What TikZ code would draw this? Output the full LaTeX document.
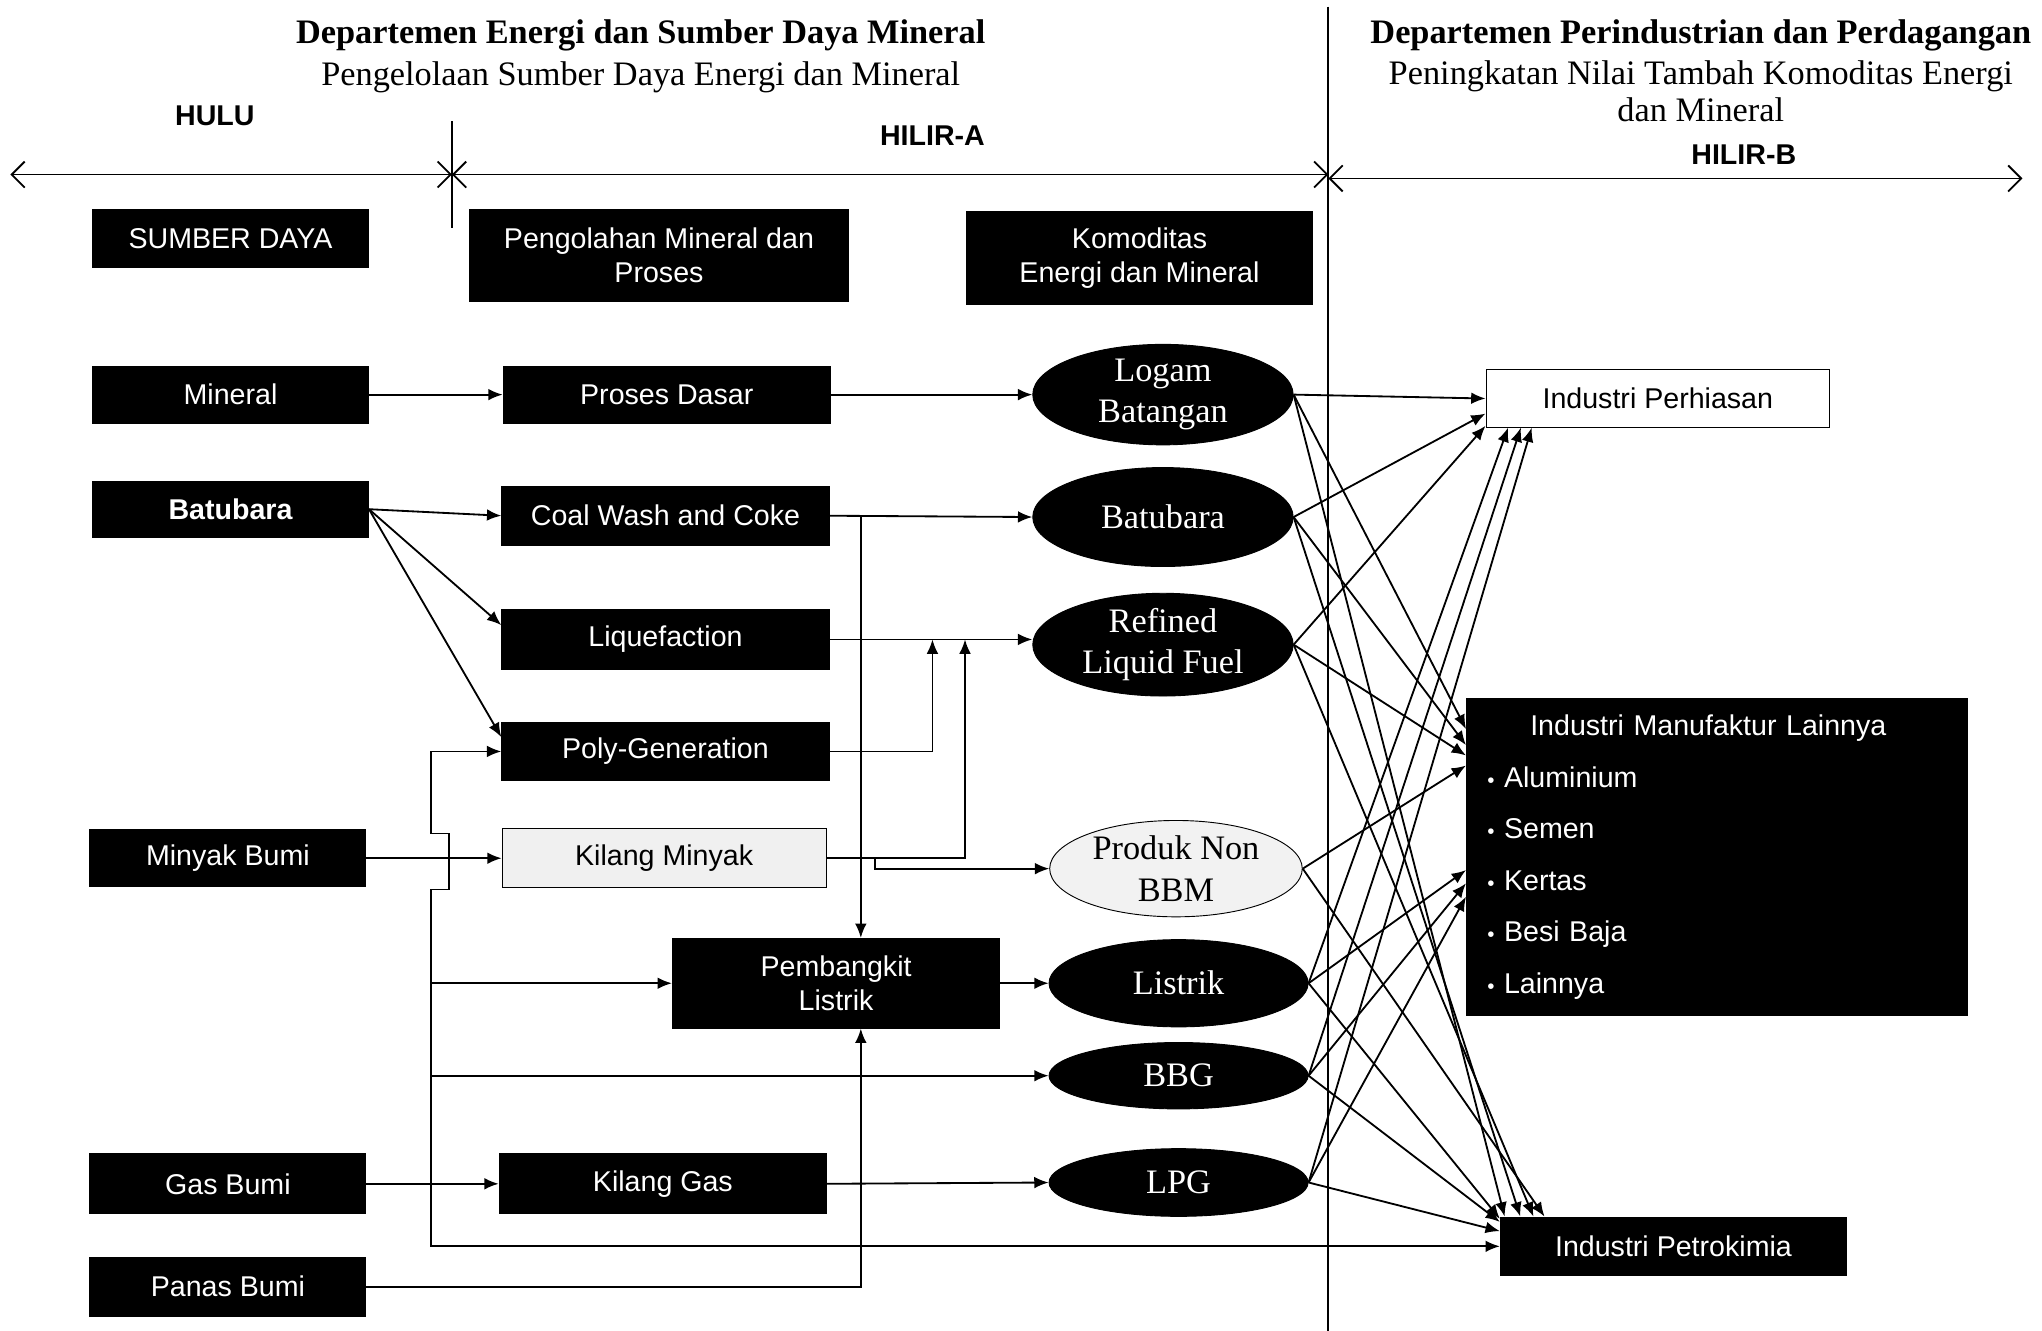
\documentclass[tikz,border=0pt]{standalone}
\usepackage{fontspec}
\setmainfont{Liberation Serif}
\setsansfont{Liberation Sans}
\usetikzlibrary{arrows.meta,shapes.geometric}

\tikzset{
  blk/.style={draw=black, fill=black, text=white, inner sep=1pt, align=center,
    font=\sffamily\fontsize{12.5}{15}\selectfont},
  leftbox/.style={blk, minimum width=4.24cm, minimum height=0.9cm},
  midbox/.style={blk, minimum width=5.03cm, minimum height=0.9cm},
  oval/.style={ellipse, draw=black, fill=black, text=white, inner sep=0pt, align=center,
    minimum width=4cm, font=\fontsize{15}{18}\selectfont},
  ttl/.style={font=\bfseries\fontsize{15}{16}\selectfont, align=center},
  subttl/.style={font=\fontsize{15}{16}\selectfont, align=center},
  zone/.style={font=\sffamily\bfseries\fontsize{12.5}{15}\selectfont},
  arr/.style={line width=0.8pt, -{Latex[length=2.2mm,width=1.8mm]}},
  zonearr/.style={line width=0.8pt, {Straight Barb[length=2mm]}-{Straight Barb[length=2mm]}}
}

\begin{document}
\begin{tikzpicture}[x=0.02cm, y=-0.02cm]
  \useasboundingbox (0,0) rectangle (1568,1022);

  % Titles
  \node[ttl] (esdm) at (492,27) {Departemen Energi dan Sumber Daya Mineral};
  \node[subttl] (esdmsub) at (492,59) {Pengelolaan Sumber Daya Energi dan Mineral};
  \node[ttl] (dpp) at (1306,27) {Departemen Perindustrian dan Perdagangan};
  \node[subttl] (dppsub) at (1306,70) {Peningkatan Nilai Tambah Komoditas Energi\\dan Mineral};

  % Zones
  \node[zone] (hulu) at (165,89) {HULU};
  \node[zone] (hilira) at (716,104) {HILIR-A};
  \node[zone] (hilirb) at (1339,119) {HILIR-B};
  \coordinate (zl) at (8,134);
  \coordinate (zm) at (347,134);
  \coordinate (zr) at (1020,134);
  \coordinate (zr2) at (1020,137);
  \coordinate (ze) at (1553,137);
  \draw[zonearr] (zl) -- (zm);
  \draw[zonearr] (zm) -- (zr);
  \draw[zonearr] (zr2) -- (ze);
  \draw[line width=0.8pt] (347,93) -- (347,175);
  \draw[line width=0.8pt] (1020,5) -- (1020,1022);

  % Hulu
  \node[leftbox] (sd) at (177,183) {SUMBER DAYA};
  \node[leftbox, minimum height=0.88cm] (min) at (177,303) {Mineral};
  \node[leftbox, minimum height=0.86cm, font=\sffamily\bfseries\fontsize{12.5}{15}\selectfont] (bb) at (177,391) {Batubara};
  \node[leftbox, minimum height=0.88cm] (mb) at (175,659) {Minyak Bumi};
  \node[leftbox, minimum height=0.92cm] (gb) at (175,909) {Gas Bumi};
  \node[leftbox] (pb) at (175,988) {Panas Bumi};

  % Hilir-A
  \node[blk, minimum width=5.82cm, minimum height=1.42cm] (hd1) at (506,196) {Pengolahan Mineral dan\\Proses};
  \node[blk, minimum width=5.32cm, minimum height=1.44cm] (hd2) at (875,198) {Komoditas\\Energi dan Mineral};
  \node[midbox, minimum height=0.88cm] (pd) at (512,303) {Proses Dasar};
  \node[midbox] (cwc) at (511,396) {Coal Wash and Coke};
  \node[midbox, minimum height=0.92cm] (liq) at (511,491) {Liquefaction};
  \node[midbox] (pg) at (511,577) {Poly-Generation};
  \node[midbox, fill=gray!12, text=black, minimum width=4.98cm] (km) at (510,659) {Kilang Minyak};
  \node[midbox, minimum height=1.38cm] (pl) at (642,755) {Pembangkit\\Listrik};
  \node[midbox, minimum height=0.92cm] (kg) at (509,909) {Kilang Gas};

  \node[oval, minimum height=1.54cm] (logam) at (893,303) {Logam\\Batangan};
  \node[oval, minimum height=1.52cm] (bbo) at (893,397) {Batubara};
  \node[oval, minimum height=1.56cm] (rlf) at (893,495) {Refined\\Liquid Fuel};
  \node[oval, fill=gray!10, text=black, minimum width=3.88cm, minimum height=1.48cm] (pnb) at (903,667) {Produk Non\\BBM};
  \node[oval, minimum width=3.98cm, minimum height=1.34cm] (lis) at (905,755) {Listrik};
  \node[oval, minimum width=3.98cm, minimum height=1.02cm] (bbg) at (905,826) {BBG};
  \node[oval, minimum width=3.98cm, minimum height=1.04cm] (lpg) at (905,908) {LPG};

  % Hilir-B
  \node[blk, fill=white, text=black, minimum width=5.28cm, minimum height=0.88cm] (perh) at (1273,306) {Industri Perhiasan};
  \node[blk, minimum width=7.7cm, minimum height=4.88cm, text width=7.06cm, align=left,
    font=\sffamily\fontsize{12.5}{22.5}\selectfont] (manu) at (1318.5,658)
    {\hspace*{0.66cm}Industri Manufaktur Lainnya\\
     {\small\textbullet}\ Aluminium\\
     {\small\textbullet}\ Semen\\
     {\small\textbullet}\ Kertas\\
     {\small\textbullet}\ Besi Baja\\
     {\small\textbullet}\ Lainnya};
  \node[blk, minimum width=5.32cm, minimum height=0.9cm] (petro) at (1285,957) {Industri Petrokimia};

  % Junctions
  \coordinate (cwj) at (661,396);
  \coordinate (liqj1) at (716,491);
  \coordinate (liqj2) at (741,491);
  \coordinate (kmj) at (672,659);
  \coordinate (gbj) at (331,909);

  % Hulu to Hilir-A
  \draw[arr] (min.east) -- (pd.west);
  \draw[arr] (pd.east) -- (logam.west);
  \draw[arr] (bb.east) -- (cwc.west);
  \draw[arr] (bb.east) -- (liq.175);
  \draw[arr] (bb.east) -- (pg.175);
  \draw[arr] (cwc.east) -- (bbo.west);
  \draw[arr] (cwj) -- (cwj |- pl.north);
  \draw[arr] (liq.east) -- (liq.east -| rlf.west);
  \draw[arr] (pg.east) -| (liqj1);
  \draw[arr] (mb.east) -- (km.west);
  \draw[arr] (km.east) -| (liqj2);
  \draw[arr] (kmj) |- (pnb.west);
  \draw[arr] (pl.east) -- (lis.west);
  \draw[arr] (gb.east) -- (kg.west);
  \draw[arr] (kg.east) -- (lpg.west);
  \draw[arr] (gbj) -- (331,683) -- (345,683) -- (345,640) -- (331,640) |- (pg.west);
  \draw[arr] (gbj |- pl.west) -- (pl.west);
  \draw[arr] (gbj |- bbg.west) -- (bbg.west);
  \draw[arr] (gbj) |- (petro.west);
  \draw[arr] (pb.east) -| (cwj |- pl.south);

  % Hilir-A to Hilir-B
  \foreach \a/\b in {logam/perh.west, logam/manu.153, logam/petro.170,
      bbo/perh.185, bbo/manu.156, bbo/petro.169,
      rlf/perh.189, rlf/manu.158, rlf/petro.168,
      pnb/manu.160, pnb/petro.167,
      lis/perh.191, lis/manu.183, lis/petro.171,
      bbg/perh.192, bbg/manu.186, bbg/petro.172,
      lpg/perh.193, lpg/manu.189, lpg/petro.175}
    \draw[arr] (\a.east) -- (\b);
\end{tikzpicture}
\end{document}
